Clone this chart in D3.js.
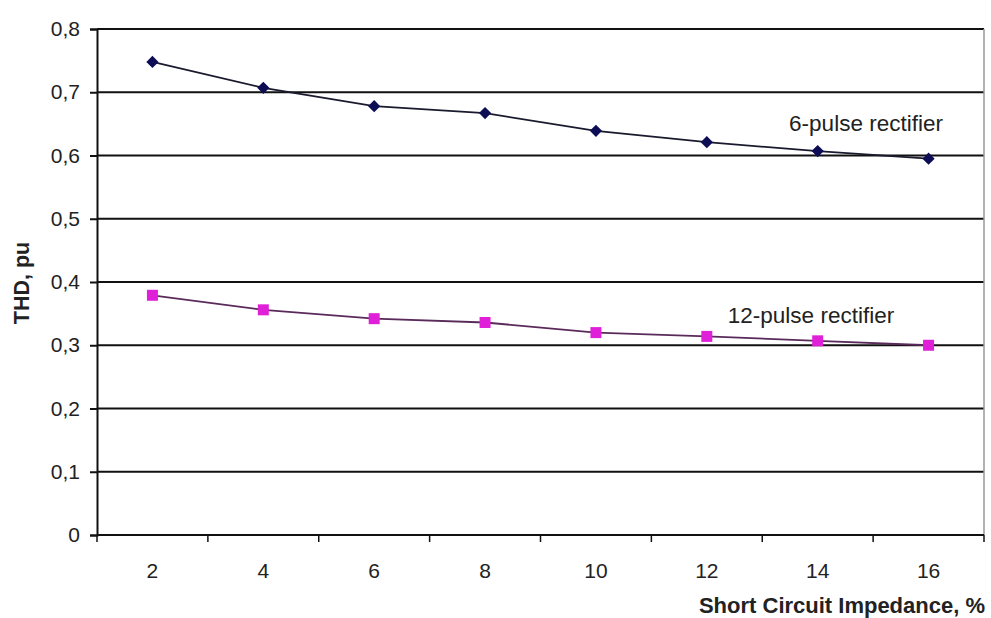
<!DOCTYPE html>
<html>
<head>
<meta charset="utf-8">
<script src="https://cdn.jsdelivr.net/npm/d3@7"></script>
<style>
  html, body { margin: 0; padding: 0; background: #fff; }
  svg { display: block; font-family: Arial, "Liberation Sans", sans-serif; }
</style>
</head>
<body>
<svg id="chart" width="991" height="618"></svg>
<script>
const categories = ["2", "4", "6", "8", "10", "12", "14", "16"];
const sixPulse = [0.748, 0.707, 0.678, 0.667, 0.639, 0.621, 0.607, 0.595];
const twelvePulse = [0.379, 0.356, 0.342, 0.336, 0.320, 0.314, 0.307, 0.300];
const yTicks = [0, 0.1, 0.2, 0.3, 0.4, 0.5, 0.6, 0.7, 0.8];
const yTickLabels = ["0", "0,1", "0,2", "0,3", "0,4", "0,5", "0,6", "0,7", "0,8"];
const seriesNames = ["6-pulse rectifier", "12-pulse rectifier"];

(function () {
const svg = d3.select("#chart");
const pLeft = 97, pRight = 984, pTop = 29, pBottom = 535;
const FONT = "Arial, 'Liberation Sans', sans-serif";

const x = d3.scaleBand().domain(categories).range([pLeft, pRight]).padding(0);
const y = d3.scaleLinear().domain([0, 0.8]).range([pBottom, pTop]);

// gridlines
svg.append("g").selectAll("line").data(yTicks.filter(d => d > 0)).join("line")
  .attr("x1", pLeft).attr("x2", pRight)
  .attr("y1", d => y(d)).attr("y2", d => y(d))
  .attr("stroke", "#111").attr("stroke-width", 2);

// right border of plot area
svg.append("line").attr("x1", pRight).attr("x2", pRight).attr("y1", pTop).attr("y2", pBottom)
  .attr("stroke", "#999").attr("stroke-width", 1.5);

// y axis
const yAxis = d3.axisLeft(y).tickValues(yTicks)
  .tickFormat((d, i) => yTickLabels[i]).tickSize(7).tickPadding(10);
const gy = svg.append("g").attr("transform", `translate(${pLeft},0)`).call(yAxis);
gy.select(".domain").attr("stroke", "#111").attr("stroke-width", 2);
gy.selectAll(".tick line").attr("stroke", "#111").attr("stroke-width", 2);
gy.selectAll(".tick text").attr("fill", "#222").style("font-size", "21px")
  .style("font-family", FONT);

// x axis: ticks between categories
const xAxis = d3.axisBottom(x).tickSize(0).tickPadding(28);
const gx = svg.append("g").attr("transform", `translate(0,${pBottom})`).call(xAxis);
gx.select(".domain").remove();
gx.selectAll(".tick text").attr("fill", "#222").style("font-size", "21px")
  .style("font-family", FONT);
svg.append("line").attr("x1", pLeft).attr("x2", pRight).attr("y1", pBottom).attr("y2", pBottom)
  .attr("stroke", "#111").attr("stroke-width", 2);
const boundaries = categories.map(c => x(c)).concat([x(categories[categories.length - 1]) + x.bandwidth()]);
svg.append("g").selectAll("line").data(boundaries).join("line")
  .attr("x1", d => d).attr("x2", d => d)
  .attr("y1", pBottom).attr("y2", pBottom + 7)
  .attr("stroke", "#111").attr("stroke-width", 1.5);

const cx = c => x(c) + x.bandwidth() / 2;
const line = d3.line().x((d, i) => cx(categories[i])).y(d => y(d));

// 6-pulse
svg.append("path").datum(sixPulse).attr("d", line)
  .attr("fill", "none").attr("stroke", "#1a1a2e").attr("stroke-width", 1.8);
svg.append("g").selectAll("path").data(sixPulse).join("path")
  .attr("d", d3.symbol(d3.symbolDiamond2 || d3.symbolDiamond, 95))
  .attr("transform", (d, i) => `translate(${cx(categories[i])},${y(d)})`)
  .attr("fill", "#0d0d55");

// 12-pulse
svg.append("path").datum(twelvePulse).attr("d", line)
  .attr("fill", "none").attr("stroke", "#5a2a5a").attr("stroke-width", 1.8);
svg.append("g").selectAll("rect").data(twelvePulse).join("rect")
  .attr("x", (d, i) => cx(categories[i]) - 5.5)
  .attr("y", d => y(d) - 5.5)
  .attr("width", 11).attr("height", 11)
  .attr("fill", "#e020d8");

// annotations
svg.append("text").attr("x", 866).attr("y", 131)
  .attr("text-anchor", "middle").attr("fill", "#222").style("font-size", "22.5px")
  .text(seriesNames[0]);
svg.append("text").attr("x", 811).attr("y", 323)
  .attr("text-anchor", "middle").attr("fill", "#222").style("font-size", "22.5px")
  .text(seriesNames[1]);

// axis titles
svg.append("text").attr("x", 985).attr("y", 613)
  .attr("text-anchor", "end").attr("fill", "#222")
  .style("font-size", "22px").style("font-weight", "bold")
  .text("Short Circuit Impedance, %");
svg.append("text").attr("transform", "translate(29,283) rotate(-90)")
  .attr("text-anchor", "middle").attr("fill", "#222")
  .style("font-size", "21.5px").style("font-weight", "bold")
  .text("THD, pu");
})();
</script>
</body>
</html>
